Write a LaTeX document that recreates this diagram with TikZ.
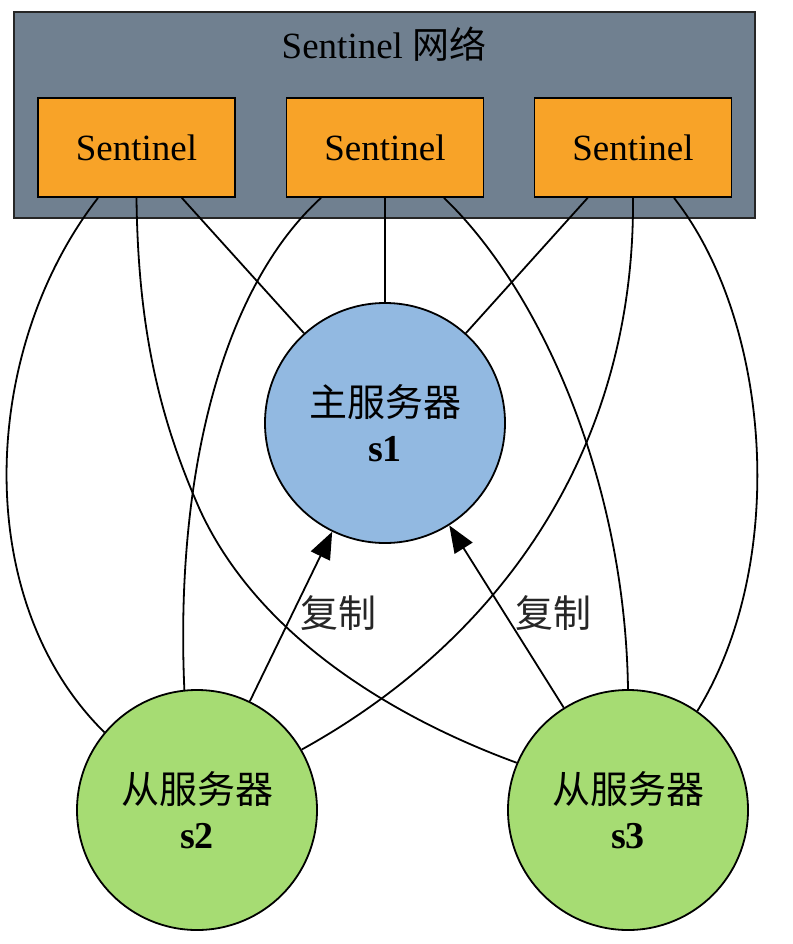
\documentclass[tikz,border=0pt]{standalone}
\usepackage{fontspec}
\setmainfont{Liberation Serif}
\newfontfamily\cjk{Noto Sans CJK SC}
\usetikzlibrary{arrows.meta,calc}
\definecolor{netgray}{HTML}{708090}
\definecolor{senorange}{HTML}{F8A328}
\definecolor{masterblue}{HTML}{92B9E1}
\definecolor{slavegreen}{HTML}{A6DC73}
\begin{document}
\begin{tikzpicture}[x=1pt,y=-1pt, line width=1.8pt,
  senbox/.style={draw=black, fill=senorange, minimum width=197pt, minimum height=99pt, inner sep=0pt, font=\fontsize{37}{44}\selectfont},
  server/.style={circle, draw=black, minimum size=240pt, inner sep=0pt, align=center, font=\fontsize{38}{45}\selectfont},
  link/.style={draw=black, line width=1.8pt},
  repl/.style={link, -{Triangle[length=27pt,width=21pt]}},
  lbl/.style={font=\fontsize{38}{45}\selectfont\cjk, text=black!85}]
\useasboundingbox (0,0) rectangle (792,944);
\fill[white] (0,0) rectangle (792,944);
\node[draw=black!85, fill=netgray, minimum width=741pt, minimum height=206pt, inner sep=0pt] (net) at (384.5,115) {};
\node[font=\fontsize{37}{44}\selectfont] (title) at (384,44) {Sentinel {\cjk 网络}};
\node[senbox] (sen1) at (136.5,147.5) {Sentinel};
\node[senbox] (sen2) at (385,147.5) {Sentinel};
\node[senbox] (sen3) at (633,147.5) {Sentinel};
\node[server, fill=masterblue] (m) at (385,423) {{\cjk 主服务器}\\\textbf{s1}};
\node[server, fill=slavegreen] (s2) at (197,810) {{\cjk 从服务器}\\\textbf{s2}};
\node[server, fill=slavegreen] (s3) at (628,810) {{\cjk 从服务器}\\\textbf{s3}};
% sentinel 1
\draw[link] ($(sen1.south)+(-38.5,0)$) .. controls (-20,350) and (-30,600) .. (s2.140);
\draw[link] (sen1.south) .. controls (138,330) and (160,420) .. (200,510) .. controls (260,640) and (400,720) .. (s3.157);
\draw[link] (sen1) -- (m);
% sentinel 2
\draw[link] ($(sen2.south)+(-64,0)$) .. controls (220,290) and (175,480) .. (s2.96);
\draw[link] (sen2) -- (m);
\draw[link] ($(sen2.south)+(59,0)$) .. controls (540,290) and (625,480) .. (s3.90);
% sentinel 3
\draw[link] (sen3) -- (m);
\draw[link] (sen3.south) .. controls (635,450) and (500,640) .. (s2.30);
\draw[link] ($(sen3.south)+(41,0)$) .. controls (770,320) and (790,560) .. (s3.55);
% replication
\draw[repl] (s2) -- (m);
\draw[repl] (s3) -- (m);
\node[lbl] (r1) at (338,613) {复制};
\node[lbl] (r2) at (553,613) {复制};
\end{tikzpicture}
\end{document}
